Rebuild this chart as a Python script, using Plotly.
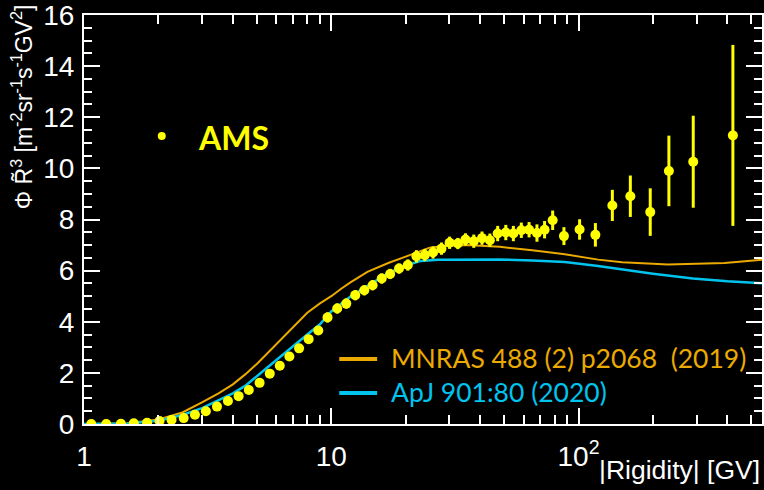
import plotly.graph_objects as go

# AMS data: rigidity [GV], flux x R^3, error
ams_R = [1.07, 1.23, 1.41, 1.59, 1.80, 2.02, 2.26, 2.53, 2.81, 3.11, 3.45, 3.82, 4.22, 4.64,
         5.13, 5.64, 6.19, 6.77, 7.41, 8.10, 8.86, 9.66, 10.57, 11.5, 12.5, 13.6, 14.7, 16.0,
         17.3, 18.8, 20.4, 22.1, 23.9, 25.8, 27.9, 30.1, 32.5, 34.9, 37.7, 40.7, 43.8, 47.1,
         50.8, 54.5, 58.7, 63.1, 67.9, 72.9, 78.6, 87.3, 101, 117, 137, 162, 195, 232, 291, 421]
ams_F = [0.0, 0.0, 0.01, 0.03, 0.05, 0.12, 0.16, 0.23, 0.36, 0.50, 0.68, 0.90, 1.09, 1.33,
         1.61, 1.97, 2.28, 2.64, 2.96, 3.32, 3.66, 4.17, 4.52, 4.71, 5.04, 5.23, 5.43, 5.69,
         5.87, 6.08, 6.22, 6.56, 6.61, 6.71, 6.86, 7.09, 7.06, 7.22, 7.15, 7.27, 7.19, 7.45,
         7.49, 7.45, 7.58, 7.60, 7.47, 7.60, 7.97, 7.35, 7.61, 7.40, 8.55, 8.91, 8.29, 9.90, 10.26, 11.29]
ams_E = [0.02, 0.02, 0.02, 0.02, 0.03, 0.03, 0.04, 0.04, 0.05, 0.05, 0.06, 0.06, 0.07, 0.07,
         0.08, 0.08, 0.09, 0.09, 0.10, 0.10, 0.12, 0.20, 0.20, 0.20, 0.20, 0.20, 0.20, 0.20,
         0.20, 0.20, 0.22, 0.24, 0.24, 0.24, 0.24, 0.24, 0.22, 0.24, 0.26, 0.26, 0.26, 0.30,
         0.30, 0.30, 0.30, 0.30, 0.34, 0.34, 0.38, 0.35, 0.40, 0.46, 0.61, 0.81, 0.93, 1.38, 1.80, 3.54]

# Model curves
mnras_R = [1.0, 1.5, 2.0, 2.5, 3.0, 3.5, 4.0, 4.5, 5.0, 5.5, 6.0, 7.0, 8.0, 9.0, 10.0, 11.0,
           12.0, 14.0, 17.0, 20.0, 25.0, 30.0, 35.0, 48.0, 65.0, 88.0, 120.0, 150.0, 230.0, 390.0, 560.0]
mnras_F = [0.0, 0.03, 0.18, 0.45, 0.85, 1.2, 1.55, 1.95, 2.35, 2.75, 3.15, 3.8, 4.35, 4.72, 5.0, 5.3,
           5.55, 5.95, 6.3, 6.55, 6.9, 6.98, 7.0, 6.93, 6.8, 6.64, 6.43, 6.33, 6.24, 6.3, 6.43]
apj_R = [1.0, 1.5, 2.0, 2.5, 3.0, 3.5, 4.0, 4.5, 5.0, 5.5, 6.0, 7.0, 8.0, 9.0, 10.0, 12.0,
         14.0, 17.0, 20.0, 23.0, 27.0, 35.0, 48.0, 65.0, 88.0, 120.0, 155.0, 200.0, 290.0, 400.0, 560.0]
apj_F = [0.0, 0.02, 0.13, 0.35, 0.62, 0.92, 1.2, 1.5, 1.85, 2.2, 2.5, 3.05, 3.5, 3.9, 4.4, 5.0,
         5.4, 5.9, 6.2, 6.38, 6.43, 6.44, 6.44, 6.4, 6.34, 6.18, 6.02, 5.88, 5.69, 5.58, 5.5]

x_tickvals = [1, 10, 100]
x_ticktext = ["1", "10", "10<sup>2</sup>"]
x_minor = [2, 3, 4, 5, 6, 7, 8, 9, 20, 30, 40, 50, 60, 70, 80, 90, 200, 300, 400, 500]
y_tickvals = [0, 2, 4, 6, 8, 10, 12, 14, 16]

YELLOW = "#FFFF00"
ORANGE = "#EBAA00"
CYAN = "#00C3EE"

W, H = 764, 490
L, R_, T, B = 84, 0, 15, 66
PW, PH = W - L - R_, H - T - B


def px(x):
    return (x - L) / PW


def py(y):
    return (H - B - y) / PH


fig = go.Figure()
fig.add_trace(go.Scatter(x=mnras_R, y=mnras_F, mode="lines",
                         line=dict(color=ORANGE, width=2), showlegend=False))
fig.add_trace(go.Scatter(x=apj_R, y=apj_F, mode="lines",
                         line=dict(color=CYAN, width=2.5), showlegend=False))
fig.add_trace(go.Scatter(x=ams_R, y=ams_F, mode="markers",
                         marker=dict(color=YELLOW, size=10),
                         error_y=dict(type="data", array=ams_E, color=YELLOW, thickness=3, width=0),
                         showlegend=False))

axis_common = dict(showgrid=False, zeroline=False, showline=True, linecolor="white", linewidth=2,
                   mirror="ticks", ticks="inside", tickcolor="white", tickwidth=2, ticklen=16,
                   ticklabeloverflow="allow",
                   tickfont=dict(family="Liberation Sans, Arial", size=28, color="white"))

fig.update_xaxes(type="log", range=[0, 2.742], tickvals=x_tickvals, ticktext=x_ticktext,
                 ticklabelstandoff=6,
                 minor=dict(tickvals=x_minor, ticks="inside", ticklen=9, tickcolor="white", tickwidth=2),
                 **axis_common)
fig.update_yaxes(range=[0, 16], tickvals=y_tickvals, ticklabelstandoff=2,
                 minor=dict(dtick=0.5, ticks="inside", ticklen=8, tickcolor="white", tickwidth=2),
                 **axis_common)

annotations = [
    dict(text="|Rigidity| [GV]", x=1.0, y=py(470), xref="paper", yref="paper",
         xanchor="right", yanchor="middle", showarrow=False,
         font=dict(family="Liberation Sans, Arial", size=26.5, color="white")),
    dict(text="Φ R\u0303<sup>3</sup> [m<sup>-2</sup>sr<sup>-1</sup>s<sup>-1</sup>GV<sup>2</sup>]",
         x=px(22), y=py(3), xref="paper", yref="paper", textangle=-90,
         xanchor="center", yanchor="top", showarrow=False,
         font=dict(family="Liberation Sans, Arial", size=23, color="white")),
    dict(text="<b>AMS</b>", x=px(196), y=py(137), xref="paper", yref="paper",
         xanchor="left", yanchor="middle", showarrow=False,
         font=dict(family="Lato", size=32, color=YELLOW)),
    dict(text="MNRAS 488 (2) p2068  (2019)", x=px(390), y=py(358), xref="paper", yref="paper",
         xanchor="left", yanchor="middle", showarrow=False,
         font=dict(family="Lato", size=26.5, color=ORANGE)),
    dict(text="ApJ 901:80 (2020)", x=px(390), y=py(392), xref="paper", yref="paper",
         xanchor="left", yanchor="middle", showarrow=False,
         font=dict(family="Lato", size=26.5, color=CYAN)),
]

shapes = [
    dict(type="line", xref="paper", yref="paper", x0=px(340), x1=px(378), y0=py(359), y1=py(359),
         line=dict(color=ORANGE, width=4)),
    dict(type="line", xref="paper", yref="paper", x0=px(340), x1=px(378), y0=py(393), y1=py(393),
         line=dict(color=CYAN, width=4)),
    dict(type="circle", xref="paper", yref="paper", x0=px(158), x1=px(166), y0=py(132), y1=py(140),
         fillcolor=YELLOW, line=dict(width=0)),
]

fig.update_layout(width=W, height=H, margin=dict(l=L, r=R_, t=T, b=B),
                  paper_bgcolor="black", plot_bgcolor="black",
                  annotations=annotations, shapes=shapes, showlegend=False)

fig.write_html("out.html")
